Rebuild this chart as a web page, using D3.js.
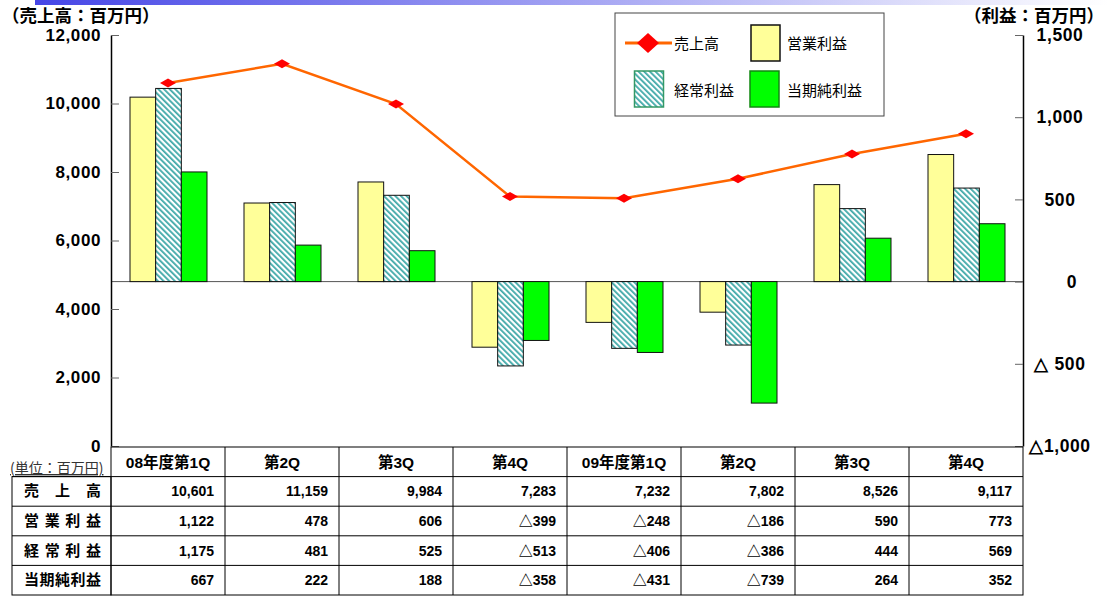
<!DOCTYPE html>
<html>
<head>
<meta charset="utf-8">
<script src="https://cdn.jsdelivr.net/npm/d3@7"></script>
<style>
  body { margin: 0; background: #fff; }
  svg text { font-family: "Noto Sans CJK JP", "Liberation Sans", sans-serif; }
  .num { font-family: "Liberation Sans Narrow", "Liberation Sans", Arial, sans-serif; font-weight: bold; }
  .cell { font-family: "Liberation Sans", Arial, "Noto Sans CJK JP", sans-serif; font-weight: bold; }
</style>
</head>
<body>
<div id="container"></div>
<script>
// ---- data ----
var quarters = ["08年度第1Q", "第2Q", "第3Q", "第4Q", "09年度第1Q", "第2Q", "第3Q", "第4Q"];
var sales = [10601, 11159, 9984, 7283, 7232, 7802, 8526, 9117];
var operatingProfit = [1122, 478, 606, -399, -248, -186, 590, 773];
var ordinaryProfit = [1175, 481, 525, -513, -406, -386, 444, 569];
var netProfit = [667, 222, 188, -358, -431, -739, 264, 352];

var seriesNames = ["売上高", "営業利益", "経常利益", "当期純利益"];
var rowLabels = ["売　上　高", "営 業 利 益", "経 常 利 益", "当期純利益"];

var leftTicks = [0, 2000, 4000, 6000, 8000, 10000, 12000];
var leftTickLabels = ["0", "2,000", "4,000", "6,000", "8,000", "10,000", "12,000"];
var rightTicks = [-1000, -500, 0, 500, 1000, 1500];
var rightTickLabels = ["△1,000", "△ 500", "0", "500", "1,000", "1,500"];

var OPTS = {
  width: 1108,
  height: 596,
  plotLeft: 111,
  plotRight: 1023,
  plotTop: 35,
  plotBottom: 446,
  tableTop: 447,
  tableBottom: 596,
  tableLeft: 12,
  yellow: "#ffff99",
  green: "#00ff00",
  hatch: "#3fa8a8",
  lineColor: "#ff6600",
  marker: "#ff0000"
};

var svg = d3.select("#container").append("svg")
  .attr("width", OPTS.width)
  .attr("height", OPTS.height);

var defs = svg.append("defs");

// top gradient band
var grad = defs.append("linearGradient").attr("id", "topband");
grad.append("stop").attr("offset", "0%").attr("stop-color", "#4646e6");
grad.append("stop").attr("offset", "100%").attr("stop-color", "#ffffff");
svg.append("rect").attr("x", 35).attr("y", 0).attr("width", OPTS.width - 35).attr("height", 5)
  .attr("fill", "url(#topband)");

// hatch pattern
var pat = defs.append("pattern").attr("id", "hatch")
  .attr("patternUnits", "userSpaceOnUse")
  .attr("width", 4).attr("height", 4)
  .attr("patternTransform", "rotate(-45)");
pat.append("rect").attr("width", 4).attr("height", 4).attr("fill", "#fff");
pat.append("rect").attr("x", 0).attr("y", 0).attr("width", 1.8).attr("height", 4).attr("fill", OPTS.hatch);

// scales
var x = d3.scaleBand().domain(d3.range(quarters.length)).range([OPTS.plotLeft, OPTS.plotRight]);
var xInner = d3.scaleBand().domain([0, 1, 2]).range([19, 96]);
var yL = d3.scaleLinear().domain([0, 12000]).range([OPTS.plotBottom, OPTS.plotTop]);
var yR = d3.scaleLinear().domain([-1000, 1500]).range([OPTS.plotBottom, OPTS.plotTop]);

// zero line
svg.append("line")
  .attr("x1", OPTS.plotLeft).attr("x2", OPTS.plotRight)
  .attr("y1", yR(0)).attr("y2", yR(0))
  .attr("stroke", "#555").attr("stroke-width", 1);

// bars
var barSeries = [
  { values: operatingProfit, fill: OPTS.yellow },
  { values: ordinaryProfit, fill: "url(#hatch)" },
  { values: netProfit, fill: OPTS.green }
];
barSeries.forEach(function(s, si) {
  svg.append("g").selectAll("rect")
    .data(s.values)
    .enter().append("rect")
      .attr("x", function(d, i) { return x(i) + xInner(si); })
      .attr("width", xInner.bandwidth())
      .attr("y", function(d) { return Math.min(yR(d), yR(0)); })
      .attr("height", function(d) { return Math.abs(yR(d) - yR(0)); })
      .attr("fill", s.fill)
      .attr("stroke", "#111")
      .attr("stroke-width", 1);
});

// sales line
var line = d3.line()
  .x(function(d, i) { return x(i) + x.bandwidth() / 2; })
  .y(function(d) { return yL(d); });
svg.append("path")
  .attr("d", line(sales))
  .attr("fill", "none")
  .attr("stroke", OPTS.lineColor)
  .attr("stroke-width", 2.5);

svg.append("g").selectAll("path")
  .data(sales)
  .enter().append("path")
    .attr("transform", function(d, i) { return "translate(" + (x(i) + x.bandwidth() / 2) + "," + yL(d) + ")"; })
    .attr("d", "M-8,0L0,-4.5L8,0L0,4.5Z")
    .attr("fill", OPTS.marker);

// axes
var leftAxis = d3.axisLeft(yL).tickValues(leftTicks)
  .tickFormat(function(d, i) { return leftTickLabels[i]; })
  .tickSizeInner(-8).tickSizeOuter(0).tickPadding(10);
var gl = svg.append("g").attr("transform", "translate(" + OPTS.plotLeft + ",0)").call(leftAxis);

var rightAxis = d3.axisRight(yR).tickValues(rightTicks)
  .tickFormat(function(d, i) { return rightTickLabels[i]; })
  .tickSizeInner(-8).tickSizeOuter(0).tickPadding(0);
var gr = svg.append("g").attr("transform", "translate(" + OPTS.plotRight + ",0)").call(rightAxis);

[gl, gr].forEach(function(g) {
  g.select(".domain").attr("stroke", "#000").attr("stroke-width", 1.5);
  g.selectAll(".tick line").attr("stroke", "#666");
  g.selectAll(".tick text")
    .attr("class", "num")
    .attr("fill", "#000")
    .style("font-size", "17px")
    .style("letter-spacing", "0.6px");
});
gr.selectAll(".tick text")
  .attr("text-anchor", "middle")
  .attr("x", function(d) { return d === 0 ? 49 : 37; })
  .style("font-size", "17.5px");

// axis unit titles
svg.append("text").attr("x", 2).attr("y", 22)
  .style("font-size", "17.5px").style("font-weight", "bold")
  .text("（売上高：百万円）");
svg.append("text").attr("x", 1104).attr("y", 22).attr("text-anchor", "end")
  .style("font-size", "17.5px").style("font-weight", "bold")
  .text("（利益：百万円）");

// legend
var lg = svg.append("g");
lg.append("rect").attr("x", 615).attr("y", 13).attr("width", 269).attr("height", 103)
  .attr("fill", "#fff").attr("stroke", "#444").attr("stroke-width", 1);
lg.append("line").attr("x1", 625).attr("x2", 672).attr("y1", 43).attr("y2", 43)
  .attr("stroke", OPTS.lineColor).attr("stroke-width", 3);
lg.append("path").attr("transform", "translate(648,43)")
  .attr("d", "M-11,0L0,-10L11,0L0,10Z").attr("fill", OPTS.marker);
lg.append("rect").attr("x", 751).attr("y", 25).attr("width", 29).attr("height", 36)
  .attr("fill", OPTS.yellow).attr("stroke", "#111").attr("stroke-width", 1.5);
lg.append("rect").attr("x", 634.5).attr("y", 71).attr("width", 29).attr("height", 36)
  .attr("fill", "url(#hatch)").attr("stroke", "#339966").attr("stroke-width", 1.5);
lg.append("rect").attr("x", 750).attr("y", 71).attr("width", 29).attr("height", 36)
  .attr("fill", OPTS.green).attr("stroke", "#118811").attr("stroke-width", 1.5);
var legendPos = [[674, 49], [787, 49], [674, 96], [787, 96]];
seriesNames.forEach(function(n, i) {
  lg.append("text").attr("x", legendPos[i][0]).attr("y", legendPos[i][1])
    .style("font-size", "15px").text(n);
});

// data table
var rows = d3.scaleBand().domain(d3.range(5)).range([OPTS.tableTop, OPTS.tableBottom - 1]);
var tableValues = [sales, operatingProfit, ordinaryProfit, netProfit];
var fmt = d3.format(",");
function fmtVal(v) { return v < 0 ? "△" + fmt(-v) : fmt(v); }

var tg = svg.append("g");
// outer frames
tg.append("rect")
  .attr("x", OPTS.plotLeft).attr("y", rows(0))
  .attr("width", OPTS.plotRight - OPTS.plotLeft).attr("height", OPTS.tableBottom - 1 - rows(0))
  .attr("fill", "none").attr("stroke", "#000");
tg.append("rect")
  .attr("x", OPTS.tableLeft).attr("y", rows(1))
  .attr("width", OPTS.plotLeft - OPTS.tableLeft).attr("height", OPTS.tableBottom - 1 - rows(1))
  .attr("fill", "none").attr("stroke", "#000");
// horizontal lines
d3.range(1, 5).forEach(function(r) {
  tg.append("line")
    .attr("x1", OPTS.tableLeft).attr("x2", OPTS.plotRight)
    .attr("y1", rows(r)).attr("y2", rows(r))
    .attr("stroke", "#000");
});
// vertical lines
d3.range(1, quarters.length).forEach(function(c) {
  tg.append("line")
    .attr("x1", x(c)).attr("x2", x(c))
    .attr("y1", rows(0)).attr("y2", OPTS.tableBottom - 1)
    .attr("stroke", "#000");
});
// headers
tg.selectAll(".hdr").data(quarters).enter().append("text")
  .attr("class", "cell")
  .attr("x", function(d, i) { return x(i) + x.bandwidth() / 2; })
  .attr("y", rows(0) + rows.bandwidth() / 2 + 6)
  .attr("text-anchor", "middle")
  .style("font-size", "15.5px")
  .text(function(d) { return d; });
// unit note
tg.append("text").attr("x", 10).attr("y", 473)
  .style("font-size", "14px").attr("fill", "#333")
  .style("text-decoration", "underline")
  .text("(単位：百万円)");
// row labels
rowLabels.forEach(function(l, r) {
  tg.append("text")
    .attr("x", 24).attr("y", rows(r + 1) + rows.bandwidth() / 2 + 5)
    .attr("textLength", 77).attr("lengthAdjust", "spacing")
    .style("font-size", "15px").style("font-weight", "bold")
    .text(l.replace(/[ 　]/g, ""));
});
// values
tableValues.forEach(function(vals, r) {
  tg.selectAll(".v" + r).data(vals).enter().append("text")
    .attr("class", "cell")
    .attr("x", function(d, i) { return x(i) + x.bandwidth() - 11; })
    .attr("y", rows(r + 1) + rows.bandwidth() / 2 + 5)
    .attr("text-anchor", "end")
    .style("font-size", "14px")
    .text(fmtVal);
});
</script>
</body>
</html>
